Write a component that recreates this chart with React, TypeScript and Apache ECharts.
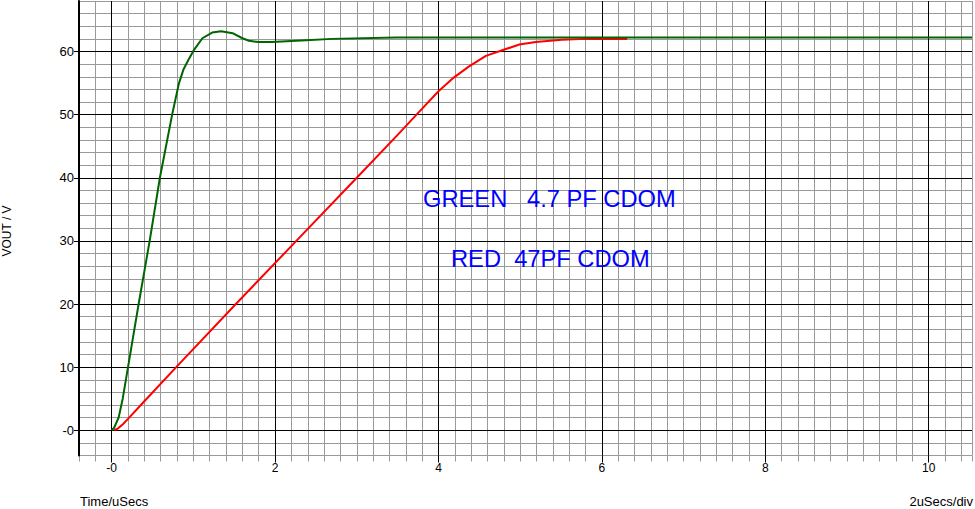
import React, { useEffect, useRef } from "react";
import * as echarts from "echarts";

// Green trace: 4.7 pF CDOM (time in µs, volts)
const greenT = [0, 0.03, 0.085, 0.135, 0.2, 0.33, 0.465, 0.59, 0.74, 0.824, 0.88, 0.94, 1.01, 1.11, 1.23, 1.34, 1.48, 1.6, 1.68, 1.8, 1.96, 2.38, 2.7, 3.48, 10.53];
const greenV = [0, 0.4, 2, 5, 10, 20, 30, 40, 50, 55, 57.2, 58.7, 60.3, 62.1, 63.0, 63.2, 62.9, 62.1, 61.7, 61.5, 61.5, 61.8, 62.0, 62.2, 62.2];

// Red trace: 47 pF CDOM
const redT = [0.03, 0.08, 0.14, 0.2, 0.4, 0.79, 1.52, 2.26, 3.0, 3.5, 3.76, 4.0, 4.17, 4.37, 4.58, 4.78, 4.99, 5.19, 5.51, 5.8, 6.31];
const redV = [0, 0.3, 1.0, 1.8, 4.6, 10, 20, 30, 40, 46.8, 50.4, 53.7, 55.7, 57.6, 59.3, 60.2, 61.1, 61.5, 61.85, 62.0, 62.0];

const xMin = -0.4;
const xMax = 10.53;
const xMinorStep = 0.2;
const xMajorTicks = [0, 2, 4, 6, 8, 10];
const xTickLabels = ["-0", "2", "4", "6", "8", "10"];

const yMin = -4;
const yMax = 68;
const yMinorStep = 2;
const yMajorTicks = [0, 10, 20, 30, 40, 50, 60];
const yTickLabels = ["-0", "10", "20", "30", "40", "50", "60"];

const annotations = ["GREEN   4.7 PF CDOM", "RED  47PF CDOM"];
const xTitle = "Time/uSecs";
const xScaleNote = "2uSecs/div";
const yTitle = "VOUT / V";

const FONT = '"Liberation Sans", Arial, sans-serif';
const MINOR = "#999999";

function labelFor(ticks: number[], labels: string[]) {
  return (v: number) => {
    const i = ticks.findIndex((t) => Math.abs(t - v) < 1e-6);
    return i >= 0 ? labels[i] : "";
  };
}

export default function App() {
  const ref = useRef<HTMLDivElement>(null);
  useEffect(() => {
    if (!ref.current) return;
    const chart = echarts.init(ref.current, null, { renderer: "svg" });
    const green = greenT.map((t, i) => [t, greenV[i]]);
    const red = redT.map((t, i) => [t, redV[i]]);
    chart.setOption({
      animation: false,
      backgroundColor: "#ffffff",
      grid: { left: 79, top: 1, width: 893, height: 454.5, containLabel: false, outerBoundsMode: "none" },
      xAxis: [
        {
          type: "value", position: "bottom", min: xMin, max: xMax, z: 1,
          axisLine: { show: false, onZero: false },
          axisTick: { show: true, customValues: xMajorTicks, length: 7, lineStyle: { color: "#000", width: 1 } },
          axisLabel: { customValues: xMajorTicks, formatter: labelFor(xMajorTicks, xTickLabels), margin: 6, fontSize: 12, color: "#000", fontFamily: FONT },
          splitLine: { show: true, lineStyle: { color: "#000", width: 1 } },
        },
        {
          type: "value", position: "bottom", min: xMin, max: xMax, interval: xMinorStep, z: 0,
          axisLine: { show: false, onZero: false },
          axisTick: { show: true, length: 6, lineStyle: { color: MINOR, width: 1 } },
          axisLabel: { show: false },
          splitLine: { show: true, lineStyle: { color: MINOR, width: 1 } },
        },
      ],
      yAxis: [
        {
          type: "value", position: "left", min: yMin, max: yMax, z: 1,
          axisLine: { show: true, onZero: false, lineStyle: { color: "#000", width: 2 } },
          axisTick: { show: true, customValues: yMajorTicks, length: 5, lineStyle: { color: "#000", width: 1 } },
          axisLabel: { customValues: yMajorTicks, formatter: labelFor(yMajorTicks, yTickLabels), margin: 5, fontSize: 13, color: "#000", fontFamily: FONT },
          splitLine: { show: true, lineStyle: { color: "#000", width: 1 } },
        },
        {
          type: "value", position: "left", min: yMin, max: yMax, interval: yMinorStep, z: 0,
          axisLine: { show: false, onZero: false },
          axisTick: { show: false },
          axisLabel: { show: false },
          splitLine: { show: true, lineStyle: { color: MINOR, width: 1 } },
        },
      ],
      series: [
        {
          type: "line", name: "red", xAxisIndex: 0, yAxisIndex: 0, data: red, showSymbol: false, symbol: "none", z: 3,
          smooth: false,
          lineStyle: { color: "#ff0000", width: 2 }, silent: true,
        },
        {
          type: "line", name: "green", xAxisIndex: 0, yAxisIndex: 0, data: green, showSymbol: false, symbol: "none", z: 4,
          smooth: false,
          lineStyle: { color: "#006400", width: 2 }, silent: true,
        },
      ],
      graphic: [
        { type: "text", x: 423, y: 198.5, z: 10, style: { text: annotations[0], fill: "#0000ff", fontSize: 23.7, fontFamily: FONT, align: "left", verticalAlign: "middle" } },
        { type: "text", x: 451, y: 258.5, z: 10, style: { text: annotations[1], fill: "#0000ff", fontSize: 23.7, fontFamily: FONT, align: "left", verticalAlign: "middle" } },
        { type: "text", x: 80, y: 501.5, style: { text: xTitle, fill: "#000", fontSize: 13, fontFamily: FONT, align: "left", verticalAlign: "middle" } },
        { type: "text", x: 973, y: 501, style: { text: xScaleNote, fill: "#000", fontSize: 13, fontFamily: FONT, align: "right", verticalAlign: "middle" } },
        { type: "text", x: 7, y: 231, rotation: Math.PI / 2, style: { text: yTitle, fill: "#000", fontSize: 12, fontFamily: FONT, align: "center", verticalAlign: "middle" } },
      ],
    });
    return () => chart.dispose();
  }, []);
  return <div ref={ref} style={{ position: "absolute", left: 0, top: 0, width: 975, height: 509 }} />;
}
